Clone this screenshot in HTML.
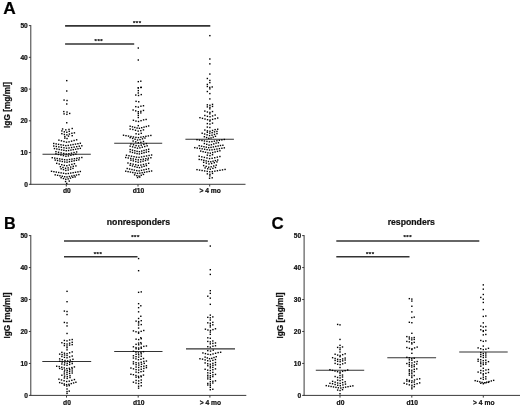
<!DOCTYPE html>
<html><head><meta charset="utf-8"><title>IgG figure</title>
<style>html,body{margin:0;padding:0;background:#fff}svg{display:block}</style>
</head><body>
<svg width="520" height="406" viewBox="0 0 520 406">
<rect width="520" height="406" fill="#fff"/>
<g font-family="'Liberation Sans', sans-serif" font-weight="bold" fill="#111" stroke="#111" stroke-width="0.22">
<g stroke="#3a3a3a" stroke-width="1" fill="none">
<path d="M30.8 25.1V184.8"/>
<path d="M30.3 184.3H245.5"/>
<path d="M28.900000000000002 184.30H30.8"/>
<path d="M28.900000000000002 152.56H30.8"/>
<path d="M28.900000000000002 120.82H30.8"/>
<path d="M28.900000000000002 89.08H30.8"/>
<path d="M28.900000000000002 57.34H30.8"/>
<path d="M28.900000000000002 25.60H30.8"/>
<path d="M66.3 184.3V186.5"/>
<path d="M138 184.3V186.5"/>
<path d="M209.7 184.3V186.5"/>
</g>
<g font-size="6.6" text-anchor="end">
<text x="27.8" y="186.80">0</text>
<text x="27.8" y="155.06">10</text>
<text x="27.8" y="123.32">20</text>
<text x="27.8" y="91.58">30</text>
<text x="27.8" y="59.84">40</text>
<text x="27.8" y="28.10">50</text>
</g>
<g font-size="6.7" text-anchor="middle">
<text x="66.8" y="193.3">d0</text>
<text x="138.5" y="193.3">d10</text>
<text x="210.2" y="193.3">&gt; 4 mo</text>
</g>
<text font-size="8.3" text-anchor="middle" transform="translate(10.3 104.95) rotate(-90)">IgG [mg/ml]</text>
<g stroke="#3a3a3a" stroke-width="1" fill="none">
<path d="M30.8 235.1V395.9"/>
<path d="M30.3 395.4H246.3"/>
<path d="M28.900000000000002 395.40H30.8"/>
<path d="M28.900000000000002 363.44H30.8"/>
<path d="M28.900000000000002 331.48H30.8"/>
<path d="M28.900000000000002 299.52H30.8"/>
<path d="M28.900000000000002 267.56H30.8"/>
<path d="M28.900000000000002 235.60H30.8"/>
<path d="M66.5 395.4V397.59999999999997"/>
<path d="M138.2 395.4V397.59999999999997"/>
<path d="M209.9 395.4V397.59999999999997"/>
</g>
<g font-size="6.6" text-anchor="end">
<text x="27.8" y="397.90">0</text>
<text x="27.8" y="365.94">10</text>
<text x="27.8" y="333.98">20</text>
<text x="27.8" y="302.02">30</text>
<text x="27.8" y="270.06">40</text>
<text x="27.8" y="238.10">50</text>
</g>
<g font-size="6.7" text-anchor="middle">
<text x="67.0" y="404.5">d0</text>
<text x="138.7" y="404.5">d10</text>
<text x="210.4" y="404.5">&gt; 4 mo</text>
</g>
<text font-size="8.3" text-anchor="middle" transform="translate(10.3 315.5) rotate(-90)">IgG [mg/ml]</text>
<g stroke="#3a3a3a" stroke-width="1" fill="none">
<path d="M304.1 235.1V395.9"/>
<path d="M303.6 395.4H520"/>
<path d="M302.20000000000005 395.40H304.1"/>
<path d="M302.20000000000005 363.44H304.1"/>
<path d="M302.20000000000005 331.48H304.1"/>
<path d="M302.20000000000005 299.52H304.1"/>
<path d="M302.20000000000005 267.56H304.1"/>
<path d="M302.20000000000005 235.60H304.1"/>
<path d="M340.0 395.4V397.59999999999997"/>
<path d="M411.8 395.4V397.59999999999997"/>
<path d="M483.3 395.4V397.59999999999997"/>
</g>
<g font-size="6.6" text-anchor="end">
<text x="301.1" y="397.90">0</text>
<text x="301.1" y="365.94">10</text>
<text x="301.1" y="333.98">20</text>
<text x="301.1" y="302.02">30</text>
<text x="301.1" y="270.06">40</text>
<text x="301.1" y="238.10">50</text>
</g>
<g font-size="6.7" text-anchor="middle">
<text x="340.5" y="404.5">d0</text>
<text x="412.3" y="404.5">d10</text>
<text x="483.8" y="404.5">&gt; 4 mo</text>
</g>
<text font-size="8.3" text-anchor="middle" transform="translate(283 315.5) rotate(-90)">IgG [mg/ml]</text>
<g font-size="17.4" fill="#000">
<text x="3.2" y="14.35" font-size="17.3">A</text>
<text transform="translate(4.0 228.55) scale(0.93 1)">B</text>
<text transform="translate(271.4 228.8) scale(0.97 1)">C</text>
</g>
<g font-size="8.7" text-anchor="middle">
<text x="138.4" y="224.55">nonresponders</text>
<text x="411.3" y="224.55">responders</text>
</g>
<g font-size="6" text-anchor="middle">
<text y="42.75" x="95.69999999999999 98.6 101.5">***</text>
<text y="24.95" x="134.1 137 139.9">***</text>
<text y="255.5" x="94.8 97.7 100.60000000000001">***</text>
<text y="238.75" x="132.29999999999998 135.2 138.1">***</text>
<text y="255.5" x="367.1 370.0 372.9">***</text>
<text y="238.75" x="404.6 407.5 410.4">***</text>
</g>
</g>
<path d="M65.1 25.9H210.3" stroke="#333" stroke-width="1.7"/>
<path d="M65.1 44.0H134.2" stroke="#333" stroke-width="1.7"/>
<path d="M64 240.9H207.8" stroke="#333" stroke-width="1.5"/>
<path d="M64 256.75H137.5" stroke="#333" stroke-width="1.5"/>
<path d="M336.3 240.9H479.3" stroke="#333" stroke-width="1.5"/>
<path d="M336.3 256.75H409.5" stroke="#333" stroke-width="1.5"/>
<path d="M42.5 154.2H90.8" stroke="#333" stroke-width="1.05"/>
<path d="M114.2 143.2H162.2" stroke="#333" stroke-width="1.05"/>
<path d="M185.4 139.2H233.9" stroke="#333" stroke-width="1.05"/>
<path d="M42.3 361.5H91.2" stroke="#333" stroke-width="1.0"/>
<path d="M114.2 351.5H162.5" stroke="#333" stroke-width="1.0"/>
<path d="M186 348.85H235" stroke="#333" stroke-width="1.05"/>
<path d="M315.8 370.2H364.2" stroke="#333" stroke-width="1.05"/>
<path d="M387.3 357.75H436.1" stroke="#333" stroke-width="1.05"/>
<path d="M459.2 352.0H507.7" stroke="#333" stroke-width="1.15"/>
<g fill="#000">
<rect x="66.04" y="79.94" width="1.4" height="1.4"/><rect x="66.04" y="90.29" width="1.4" height="1.4"/><rect x="63.38" y="99.37" width="1.4" height="1.4"/><rect x="66.33" y="99.82" width="1.4" height="1.4"/><rect x="66.04" y="103.29" width="1.4" height="1.4"/><rect x="63.08" y="110.90" width="1.4" height="1.4"/><rect x="66.33" y="111.35" width="1.4" height="1.4"/><rect x="63.38" y="113.19" width="1.4" height="1.4"/><rect x="66.19" y="113.64" width="1.4" height="1.4"/><rect x="68.99" y="112.74" width="1.4" height="1.4"/><rect x="66.04" y="122.06" width="1.4" height="1.4"/><rect x="61.90" y="128.26" width="1.4" height="1.4"/><rect x="65.10" y="129.16" width="1.4" height="1.4"/><rect x="68.30" y="128.71" width="1.4" height="1.4"/><rect x="71.51" y="127.80" width="1.4" height="1.4"/><rect x="61.16" y="130.21" width="1.4" height="1.4"/><rect x="63.63" y="131.12" width="1.4" height="1.4"/><rect x="66.09" y="131.57" width="1.4" height="1.4"/><rect x="68.55" y="130.66" width="1.4" height="1.4"/><rect x="61.16" y="132.96" width="1.4" height="1.4"/><rect x="63.67" y="133.78" width="1.4" height="1.4"/><rect x="66.19" y="134.19" width="1.4" height="1.4"/><rect x="68.70" y="133.37" width="1.4" height="1.4"/><rect x="71.21" y="132.56" width="1.4" height="1.4"/><rect x="73.72" y="132.15" width="1.4" height="1.4"/><rect x="64.12" y="135.88" width="1.4" height="1.4"/><rect x="67.81" y="135.43" width="1.4" height="1.4"/><rect x="71.51" y="134.98" width="1.4" height="1.4"/><rect x="64.12" y="137.42" width="1.4" height="1.4"/><rect x="66.33" y="137.87" width="1.4" height="1.4"/><rect x="58.21" y="139.45" width="1.4" height="1.4"/><rect x="60.74" y="140.13" width="1.4" height="1.4"/><rect x="63.27" y="140.81" width="1.4" height="1.4"/><rect x="65.81" y="141.49" width="1.4" height="1.4"/><rect x="68.34" y="141.15" width="1.4" height="1.4"/><rect x="70.87" y="140.47" width="1.4" height="1.4"/><rect x="73.41" y="139.79" width="1.4" height="1.4"/><rect x="75.94" y="139.11" width="1.4" height="1.4"/><rect x="53.03" y="142.77" width="1.4" height="1.4"/><rect x="55.45" y="143.20" width="1.4" height="1.4"/><rect x="57.87" y="143.64" width="1.4" height="1.4"/><rect x="60.29" y="144.07" width="1.4" height="1.4"/><rect x="62.71" y="144.50" width="1.4" height="1.4"/><rect x="65.13" y="144.94" width="1.4" height="1.4"/><rect x="67.54" y="144.72" width="1.4" height="1.4"/><rect x="69.96" y="144.29" width="1.4" height="1.4"/><rect x="72.38" y="143.85" width="1.4" height="1.4"/><rect x="74.80" y="143.42" width="1.4" height="1.4"/><rect x="77.22" y="142.99" width="1.4" height="1.4"/><rect x="79.63" y="142.56" width="1.4" height="1.4"/><rect x="53.03" y="145.33" width="1.4" height="1.4"/><rect x="55.59" y="145.76" width="1.4" height="1.4"/><rect x="58.14" y="146.19" width="1.4" height="1.4"/><rect x="60.69" y="146.62" width="1.4" height="1.4"/><rect x="63.24" y="147.06" width="1.4" height="1.4"/><rect x="65.80" y="147.49" width="1.4" height="1.4"/><rect x="68.35" y="147.27" width="1.4" height="1.4"/><rect x="70.90" y="146.84" width="1.4" height="1.4"/><rect x="73.45" y="146.41" width="1.4" height="1.4"/><rect x="76.01" y="145.98" width="1.4" height="1.4"/><rect x="78.56" y="145.54" width="1.4" height="1.4"/><rect x="81.11" y="145.11" width="1.4" height="1.4"/><rect x="53.77" y="147.88" width="1.4" height="1.4"/><rect x="56.12" y="148.31" width="1.4" height="1.4"/><rect x="58.48" y="148.75" width="1.4" height="1.4"/><rect x="60.83" y="149.18" width="1.4" height="1.4"/><rect x="63.18" y="149.61" width="1.4" height="1.4"/><rect x="65.53" y="150.04" width="1.4" height="1.4"/><rect x="67.88" y="149.83" width="1.4" height="1.4"/><rect x="70.23" y="149.39" width="1.4" height="1.4"/><rect x="72.58" y="148.96" width="1.4" height="1.4"/><rect x="74.93" y="148.53" width="1.4" height="1.4"/><rect x="77.28" y="148.10" width="1.4" height="1.4"/><rect x="79.63" y="147.66" width="1.4" height="1.4"/><rect x="55.25" y="150.96" width="1.4" height="1.4"/><rect x="57.84" y="151.55" width="1.4" height="1.4"/><rect x="60.42" y="152.15" width="1.4" height="1.4"/><rect x="63.01" y="152.74" width="1.4" height="1.4"/><rect x="65.60" y="153.34" width="1.4" height="1.4"/><rect x="68.18" y="153.04" width="1.4" height="1.4"/><rect x="70.77" y="152.44" width="1.4" height="1.4"/><rect x="73.35" y="151.85" width="1.4" height="1.4"/><rect x="75.94" y="151.25" width="1.4" height="1.4"/><rect x="55.25" y="153.14" width="1.4" height="1.4"/><rect x="57.74" y="153.74" width="1.4" height="1.4"/><rect x="60.24" y="154.33" width="1.4" height="1.4"/><rect x="62.73" y="154.93" width="1.4" height="1.4"/><rect x="65.23" y="155.52" width="1.4" height="1.4"/><rect x="67.72" y="155.22" width="1.4" height="1.4"/><rect x="70.21" y="154.63" width="1.4" height="1.4"/><rect x="72.71" y="154.03" width="1.4" height="1.4"/><rect x="75.20" y="153.44" width="1.4" height="1.4"/><rect x="51.56" y="157.00" width="1.4" height="1.4"/><rect x="54.02" y="157.40" width="1.4" height="1.4"/><rect x="56.48" y="157.80" width="1.4" height="1.4"/><rect x="58.95" y="158.19" width="1.4" height="1.4"/><rect x="61.41" y="158.59" width="1.4" height="1.4"/><rect x="63.87" y="158.99" width="1.4" height="1.4"/><rect x="66.33" y="159.18" width="1.4" height="1.4"/><rect x="68.80" y="158.79" width="1.4" height="1.4"/><rect x="71.26" y="158.39" width="1.4" height="1.4"/><rect x="73.72" y="157.99" width="1.4" height="1.4"/><rect x="76.19" y="157.60" width="1.4" height="1.4"/><rect x="78.65" y="157.20" width="1.4" height="1.4"/><rect x="81.11" y="156.80" width="1.4" height="1.4"/><rect x="54.51" y="159.37" width="1.4" height="1.4"/><rect x="56.88" y="159.85" width="1.4" height="1.4"/><rect x="59.24" y="160.33" width="1.4" height="1.4"/><rect x="61.61" y="160.80" width="1.4" height="1.4"/><rect x="63.97" y="161.28" width="1.4" height="1.4"/><rect x="66.33" y="161.52" width="1.4" height="1.4"/><rect x="68.70" y="161.04" width="1.4" height="1.4"/><rect x="71.06" y="160.56" width="1.4" height="1.4"/><rect x="73.43" y="160.09" width="1.4" height="1.4"/><rect x="75.79" y="159.61" width="1.4" height="1.4"/><rect x="78.16" y="159.14" width="1.4" height="1.4"/><rect x="55.99" y="162.65" width="1.4" height="1.4"/><rect x="58.52" y="163.33" width="1.4" height="1.4"/><rect x="61.06" y="164.01" width="1.4" height="1.4"/><rect x="63.59" y="164.69" width="1.4" height="1.4"/><rect x="66.12" y="165.03" width="1.4" height="1.4"/><rect x="68.66" y="164.35" width="1.4" height="1.4"/><rect x="71.19" y="163.67" width="1.4" height="1.4"/><rect x="73.72" y="162.99" width="1.4" height="1.4"/><rect x="59.68" y="166.00" width="1.4" height="1.4"/><rect x="62.27" y="166.79" width="1.4" height="1.4"/><rect x="64.86" y="167.58" width="1.4" height="1.4"/><rect x="67.44" y="167.19" width="1.4" height="1.4"/><rect x="70.03" y="166.39" width="1.4" height="1.4"/><rect x="72.62" y="165.60" width="1.4" height="1.4"/><rect x="75.20" y="165.20" width="1.4" height="1.4"/><rect x="60.42" y="168.10" width="1.4" height="1.4"/><rect x="62.79" y="168.92" width="1.4" height="1.4"/><rect x="65.15" y="169.73" width="1.4" height="1.4"/><rect x="67.52" y="169.33" width="1.4" height="1.4"/><rect x="69.88" y="168.51" width="1.4" height="1.4"/><rect x="72.25" y="167.69" width="1.4" height="1.4"/><rect x="50.82" y="170.60" width="1.4" height="1.4"/><rect x="53.22" y="170.99" width="1.4" height="1.4"/><rect x="55.62" y="171.39" width="1.4" height="1.4"/><rect x="58.02" y="171.79" width="1.4" height="1.4"/><rect x="60.42" y="172.18" width="1.4" height="1.4"/><rect x="62.82" y="172.58" width="1.4" height="1.4"/><rect x="65.23" y="172.98" width="1.4" height="1.4"/><rect x="67.63" y="172.78" width="1.4" height="1.4"/><rect x="70.03" y="172.38" width="1.4" height="1.4"/><rect x="72.43" y="171.98" width="1.4" height="1.4"/><rect x="74.83" y="171.59" width="1.4" height="1.4"/><rect x="77.23" y="171.19" width="1.4" height="1.4"/><rect x="79.63" y="170.79" width="1.4" height="1.4"/><rect x="54.51" y="174.13" width="1.4" height="1.4"/><rect x="56.88" y="174.60" width="1.4" height="1.4"/><rect x="59.24" y="175.08" width="1.4" height="1.4"/><rect x="61.61" y="175.55" width="1.4" height="1.4"/><rect x="63.97" y="176.03" width="1.4" height="1.4"/><rect x="66.33" y="176.27" width="1.4" height="1.4"/><rect x="68.70" y="175.79" width="1.4" height="1.4"/><rect x="71.06" y="175.32" width="1.4" height="1.4"/><rect x="73.43" y="174.84" width="1.4" height="1.4"/><rect x="75.79" y="174.36" width="1.4" height="1.4"/><rect x="78.16" y="173.89" width="1.4" height="1.4"/><rect x="60.42" y="177.01" width="1.4" height="1.4"/><rect x="62.76" y="177.81" width="1.4" height="1.4"/><rect x="65.10" y="178.60" width="1.4" height="1.4"/><rect x="67.44" y="178.20" width="1.4" height="1.4"/><rect x="69.78" y="177.41" width="1.4" height="1.4"/><rect x="72.12" y="176.62" width="1.4" height="1.4"/><rect x="74.46" y="176.22" width="1.4" height="1.4"/><rect x="64.86" y="180.82" width="1.4" height="1.4"/><rect x="68.55" y="180.37" width="1.4" height="1.4"/><rect x="66.04" y="182.72" width="1.4" height="1.4"/><rect x="137.60" y="47.33" width="1.4" height="1.4"/><rect x="137.60" y="59.30" width="1.4" height="1.4"/><rect x="137.60" y="80.95" width="1.4" height="1.4"/><rect x="140.11" y="80.50" width="1.4" height="1.4"/><rect x="137.60" y="87.16" width="1.4" height="1.4"/><rect x="140.55" y="86.71" width="1.4" height="1.4"/><rect x="137.60" y="87.19" width="1.4" height="1.4"/><rect x="140.11" y="86.74" width="1.4" height="1.4"/><rect x="137.60" y="89.92" width="1.4" height="1.4"/><rect x="137.60" y="92.28" width="1.4" height="1.4"/><rect x="135.08" y="94.35" width="1.4" height="1.4"/><rect x="137.82" y="94.80" width="1.4" height="1.4"/><rect x="140.55" y="93.90" width="1.4" height="1.4"/><rect x="135.38" y="100.63" width="1.4" height="1.4"/><rect x="138.04" y="101.08" width="1.4" height="1.4"/><rect x="135.08" y="105.96" width="1.4" height="1.4"/><rect x="137.64" y="106.41" width="1.4" height="1.4"/><rect x="140.21" y="105.50" width="1.4" height="1.4"/><rect x="142.77" y="105.05" width="1.4" height="1.4"/><rect x="132.42" y="109.31" width="1.4" height="1.4"/><rect x="135.01" y="110.16" width="1.4" height="1.4"/><rect x="137.60" y="111.01" width="1.4" height="1.4"/><rect x="140.18" y="110.59" width="1.4" height="1.4"/><rect x="142.77" y="109.74" width="1.4" height="1.4"/><rect x="137.60" y="112.66" width="1.4" height="1.4"/><rect x="140.11" y="112.21" width="1.4" height="1.4"/><rect x="137.60" y="114.65" width="1.4" height="1.4"/><rect x="137.60" y="116.81" width="1.4" height="1.4"/><rect x="132.72" y="119.56" width="1.4" height="1.4"/><rect x="135.26" y="120.38" width="1.4" height="1.4"/><rect x="137.80" y="120.79" width="1.4" height="1.4"/><rect x="140.34" y="119.97" width="1.4" height="1.4"/><rect x="142.89" y="119.16" width="1.4" height="1.4"/><rect x="145.43" y="118.75" width="1.4" height="1.4"/><rect x="137.60" y="124.94" width="1.4" height="1.4"/><rect x="129.47" y="125.53" width="1.4" height="1.4"/><rect x="131.78" y="126.12" width="1.4" height="1.4"/><rect x="134.09" y="126.72" width="1.4" height="1.4"/><rect x="136.39" y="127.31" width="1.4" height="1.4"/><rect x="138.70" y="127.61" width="1.4" height="1.4"/><rect x="141.01" y="127.01" width="1.4" height="1.4"/><rect x="143.32" y="126.42" width="1.4" height="1.4"/><rect x="145.63" y="125.82" width="1.4" height="1.4"/><rect x="147.94" y="125.23" width="1.4" height="1.4"/><rect x="129.47" y="128.35" width="1.4" height="1.4"/><rect x="132.13" y="128.76" width="1.4" height="1.4"/><rect x="134.79" y="129.58" width="1.4" height="1.4"/><rect x="137.45" y="130.39" width="1.4" height="1.4"/><rect x="140.11" y="129.99" width="1.4" height="1.4"/><rect x="142.77" y="129.17" width="1.4" height="1.4"/><rect x="135.38" y="133.07" width="1.4" height="1.4"/><rect x="137.97" y="133.52" width="1.4" height="1.4"/><rect x="140.55" y="132.62" width="1.4" height="1.4"/><rect x="122.82" y="134.54" width="1.4" height="1.4"/><rect x="125.30" y="134.97" width="1.4" height="1.4"/><rect x="127.79" y="135.40" width="1.4" height="1.4"/><rect x="130.27" y="135.84" width="1.4" height="1.4"/><rect x="132.76" y="136.27" width="1.4" height="1.4"/><rect x="135.24" y="136.70" width="1.4" height="1.4"/><rect x="137.73" y="136.92" width="1.4" height="1.4"/><rect x="140.22" y="136.49" width="1.4" height="1.4"/><rect x="142.70" y="136.05" width="1.4" height="1.4"/><rect x="145.19" y="135.62" width="1.4" height="1.4"/><rect x="147.67" y="135.19" width="1.4" height="1.4"/><rect x="150.16" y="134.75" width="1.4" height="1.4"/><rect x="129.47" y="136.94" width="1.4" height="1.4"/><rect x="131.93" y="137.73" width="1.4" height="1.4"/><rect x="134.39" y="138.53" width="1.4" height="1.4"/><rect x="136.86" y="139.32" width="1.4" height="1.4"/><rect x="139.32" y="138.92" width="1.4" height="1.4"/><rect x="141.78" y="138.13" width="1.4" height="1.4"/><rect x="144.25" y="137.34" width="1.4" height="1.4"/><rect x="132.42" y="140.35" width="1.4" height="1.4"/><rect x="135.01" y="141.20" width="1.4" height="1.4"/><rect x="137.60" y="142.05" width="1.4" height="1.4"/><rect x="140.18" y="141.62" width="1.4" height="1.4"/><rect x="142.77" y="140.77" width="1.4" height="1.4"/><rect x="130.21" y="143.28" width="1.4" height="1.4"/><rect x="132.79" y="144.08" width="1.4" height="1.4"/><rect x="135.38" y="144.87" width="1.4" height="1.4"/><rect x="137.97" y="145.27" width="1.4" height="1.4"/><rect x="140.55" y="144.47" width="1.4" height="1.4"/><rect x="143.14" y="143.68" width="1.4" height="1.4"/><rect x="145.72" y="142.89" width="1.4" height="1.4"/><rect x="129.47" y="145.46" width="1.4" height="1.4"/><rect x="131.90" y="146.14" width="1.4" height="1.4"/><rect x="134.32" y="146.82" width="1.4" height="1.4"/><rect x="136.75" y="147.50" width="1.4" height="1.4"/><rect x="139.18" y="147.16" width="1.4" height="1.4"/><rect x="141.61" y="146.48" width="1.4" height="1.4"/><rect x="144.03" y="145.80" width="1.4" height="1.4"/><rect x="146.46" y="145.12" width="1.4" height="1.4"/><rect x="129.47" y="148.88" width="1.4" height="1.4"/><rect x="131.78" y="149.47" width="1.4" height="1.4"/><rect x="134.09" y="150.07" width="1.4" height="1.4"/><rect x="136.39" y="150.66" width="1.4" height="1.4"/><rect x="138.70" y="150.96" width="1.4" height="1.4"/><rect x="141.01" y="150.36" width="1.4" height="1.4"/><rect x="143.32" y="149.77" width="1.4" height="1.4"/><rect x="145.63" y="149.17" width="1.4" height="1.4"/><rect x="147.94" y="148.58" width="1.4" height="1.4"/><rect x="129.47" y="151.15" width="1.4" height="1.4"/><rect x="131.78" y="151.74" width="1.4" height="1.4"/><rect x="134.09" y="152.34" width="1.4" height="1.4"/><rect x="136.39" y="152.93" width="1.4" height="1.4"/><rect x="138.70" y="153.23" width="1.4" height="1.4"/><rect x="141.01" y="152.64" width="1.4" height="1.4"/><rect x="143.32" y="152.04" width="1.4" height="1.4"/><rect x="145.63" y="151.45" width="1.4" height="1.4"/><rect x="147.94" y="150.85" width="1.4" height="1.4"/><rect x="125.77" y="154.54" width="1.4" height="1.4"/><rect x="128.29" y="155.02" width="1.4" height="1.4"/><rect x="130.80" y="155.50" width="1.4" height="1.4"/><rect x="133.31" y="155.97" width="1.4" height="1.4"/><rect x="135.82" y="156.45" width="1.4" height="1.4"/><rect x="138.33" y="156.69" width="1.4" height="1.4"/><rect x="140.85" y="156.21" width="1.4" height="1.4"/><rect x="143.36" y="155.73" width="1.4" height="1.4"/><rect x="145.87" y="155.26" width="1.4" height="1.4"/><rect x="148.38" y="154.78" width="1.4" height="1.4"/><rect x="150.90" y="154.31" width="1.4" height="1.4"/><rect x="125.03" y="156.80" width="1.4" height="1.4"/><rect x="127.55" y="157.28" width="1.4" height="1.4"/><rect x="130.06" y="157.75" width="1.4" height="1.4"/><rect x="132.57" y="158.23" width="1.4" height="1.4"/><rect x="135.08" y="158.70" width="1.4" height="1.4"/><rect x="137.60" y="159.18" width="1.4" height="1.4"/><rect x="140.11" y="158.94" width="1.4" height="1.4"/><rect x="142.62" y="158.47" width="1.4" height="1.4"/><rect x="145.13" y="157.99" width="1.4" height="1.4"/><rect x="147.64" y="157.51" width="1.4" height="1.4"/><rect x="150.16" y="157.04" width="1.4" height="1.4"/><rect x="130.21" y="159.49" width="1.4" height="1.4"/><rect x="132.63" y="160.17" width="1.4" height="1.4"/><rect x="135.06" y="160.85" width="1.4" height="1.4"/><rect x="137.49" y="161.53" width="1.4" height="1.4"/><rect x="139.92" y="161.19" width="1.4" height="1.4"/><rect x="142.35" y="160.51" width="1.4" height="1.4"/><rect x="144.77" y="159.83" width="1.4" height="1.4"/><rect x="147.20" y="159.15" width="1.4" height="1.4"/><rect x="127.25" y="162.30" width="1.4" height="1.4"/><rect x="129.84" y="162.89" width="1.4" height="1.4"/><rect x="132.42" y="163.49" width="1.4" height="1.4"/><rect x="135.01" y="164.08" width="1.4" height="1.4"/><rect x="137.60" y="164.68" width="1.4" height="1.4"/><rect x="140.18" y="164.38" width="1.4" height="1.4"/><rect x="142.77" y="163.78" width="1.4" height="1.4"/><rect x="145.35" y="163.19" width="1.4" height="1.4"/><rect x="147.94" y="162.59" width="1.4" height="1.4"/><rect x="129.47" y="164.58" width="1.4" height="1.4"/><rect x="131.79" y="165.26" width="1.4" height="1.4"/><rect x="134.11" y="165.94" width="1.4" height="1.4"/><rect x="136.43" y="166.62" width="1.4" height="1.4"/><rect x="138.76" y="166.96" width="1.4" height="1.4"/><rect x="141.08" y="166.28" width="1.4" height="1.4"/><rect x="143.40" y="165.60" width="1.4" height="1.4"/><rect x="145.72" y="164.92" width="1.4" height="1.4"/><rect x="126.51" y="167.80" width="1.4" height="1.4"/><rect x="128.89" y="168.33" width="1.4" height="1.4"/><rect x="131.27" y="168.86" width="1.4" height="1.4"/><rect x="133.65" y="169.39" width="1.4" height="1.4"/><rect x="136.04" y="169.92" width="1.4" height="1.4"/><rect x="138.42" y="170.18" width="1.4" height="1.4"/><rect x="140.80" y="169.65" width="1.4" height="1.4"/><rect x="143.18" y="169.13" width="1.4" height="1.4"/><rect x="145.56" y="168.60" width="1.4" height="1.4"/><rect x="147.94" y="168.07" width="1.4" height="1.4"/><rect x="125.03" y="170.51" width="1.4" height="1.4"/><rect x="127.39" y="170.95" width="1.4" height="1.4"/><rect x="129.74" y="171.38" width="1.4" height="1.4"/><rect x="132.09" y="171.81" width="1.4" height="1.4"/><rect x="134.44" y="172.24" width="1.4" height="1.4"/><rect x="136.79" y="172.68" width="1.4" height="1.4"/><rect x="139.14" y="172.46" width="1.4" height="1.4"/><rect x="141.49" y="172.03" width="1.4" height="1.4"/><rect x="143.84" y="171.60" width="1.4" height="1.4"/><rect x="146.19" y="171.16" width="1.4" height="1.4"/><rect x="148.54" y="170.73" width="1.4" height="1.4"/><rect x="150.90" y="170.30" width="1.4" height="1.4"/><rect x="133.90" y="174.15" width="1.4" height="1.4"/><rect x="136.12" y="175.00" width="1.4" height="1.4"/><rect x="138.33" y="175.42" width="1.4" height="1.4"/><rect x="140.55" y="174.57" width="1.4" height="1.4"/><rect x="142.77" y="173.72" width="1.4" height="1.4"/><rect x="136.86" y="176.82" width="1.4" height="1.4"/><rect x="139.07" y="176.37" width="1.4" height="1.4"/><rect x="209.15" y="34.94" width="1.4" height="1.4"/><rect x="209.15" y="58.29" width="1.4" height="1.4"/><rect x="209.15" y="63.17" width="1.4" height="1.4"/><rect x="209.15" y="73.36" width="1.4" height="1.4"/><rect x="206.64" y="77.80" width="1.4" height="1.4"/><rect x="209.15" y="79.73" width="1.4" height="1.4"/><rect x="209.15" y="81.94" width="1.4" height="1.4"/><rect x="206.64" y="83.73" width="1.4" height="1.4"/><rect x="206.64" y="85.79" width="1.4" height="1.4"/><rect x="209.08" y="86.69" width="1.4" height="1.4"/><rect x="211.52" y="86.24" width="1.4" height="1.4"/><rect x="209.15" y="88.17" width="1.4" height="1.4"/><rect x="206.64" y="90.83" width="1.4" height="1.4"/><rect x="209.15" y="92.90" width="1.4" height="1.4"/><rect x="209.15" y="98.22" width="1.4" height="1.4"/><rect x="206.64" y="104.13" width="1.4" height="1.4"/><rect x="209.23" y="104.58" width="1.4" height="1.4"/><rect x="211.81" y="103.68" width="1.4" height="1.4"/><rect x="206.64" y="106.18" width="1.4" height="1.4"/><rect x="209.23" y="106.63" width="1.4" height="1.4"/><rect x="211.81" y="105.73" width="1.4" height="1.4"/><rect x="209.15" y="108.12" width="1.4" height="1.4"/><rect x="204.13" y="110.39" width="1.4" height="1.4"/><rect x="206.69" y="111.30" width="1.4" height="1.4"/><rect x="209.25" y="111.75" width="1.4" height="1.4"/><rect x="211.81" y="110.85" width="1.4" height="1.4"/><rect x="209.15" y="113.14" width="1.4" height="1.4"/><rect x="204.13" y="114.78" width="1.4" height="1.4"/><rect x="206.71" y="115.63" width="1.4" height="1.4"/><rect x="209.30" y="116.06" width="1.4" height="1.4"/><rect x="211.89" y="115.21" width="1.4" height="1.4"/><rect x="214.47" y="114.36" width="1.4" height="1.4"/><rect x="199.25" y="116.98" width="1.4" height="1.4"/><rect x="201.78" y="117.66" width="1.4" height="1.4"/><rect x="204.32" y="118.34" width="1.4" height="1.4"/><rect x="206.85" y="119.02" width="1.4" height="1.4"/><rect x="209.38" y="119.36" width="1.4" height="1.4"/><rect x="211.92" y="118.68" width="1.4" height="1.4"/><rect x="214.45" y="118.00" width="1.4" height="1.4"/><rect x="216.98" y="117.32" width="1.4" height="1.4"/><rect x="209.15" y="120.42" width="1.4" height="1.4"/><rect x="206.64" y="122.90" width="1.4" height="1.4"/><rect x="209.23" y="123.35" width="1.4" height="1.4"/><rect x="211.81" y="122.45" width="1.4" height="1.4"/><rect x="206.64" y="126.37" width="1.4" height="1.4"/><rect x="209.15" y="126.82" width="1.4" height="1.4"/><rect x="204.13" y="129.34" width="1.4" height="1.4"/><rect x="206.70" y="130.16" width="1.4" height="1.4"/><rect x="209.27" y="130.57" width="1.4" height="1.4"/><rect x="211.84" y="129.75" width="1.4" height="1.4"/><rect x="214.41" y="128.93" width="1.4" height="1.4"/><rect x="216.98" y="128.53" width="1.4" height="1.4"/><rect x="206.64" y="131.58" width="1.4" height="1.4"/><rect x="209.04" y="132.43" width="1.4" height="1.4"/><rect x="211.44" y="132.00" width="1.4" height="1.4"/><rect x="213.84" y="131.15" width="1.4" height="1.4"/><rect x="216.25" y="130.73" width="1.4" height="1.4"/><rect x="201.47" y="132.52" width="1.4" height="1.4"/><rect x="203.93" y="133.32" width="1.4" height="1.4"/><rect x="206.39" y="134.11" width="1.4" height="1.4"/><rect x="208.86" y="134.90" width="1.4" height="1.4"/><rect x="211.32" y="134.51" width="1.4" height="1.4"/><rect x="213.78" y="133.71" width="1.4" height="1.4"/><rect x="216.25" y="132.92" width="1.4" height="1.4"/><rect x="203.68" y="136.03" width="1.4" height="1.4"/><rect x="205.90" y="136.84" width="1.4" height="1.4"/><rect x="208.12" y="137.66" width="1.4" height="1.4"/><rect x="210.33" y="137.25" width="1.4" height="1.4"/><rect x="212.55" y="136.44" width="1.4" height="1.4"/><rect x="214.77" y="135.62" width="1.4" height="1.4"/><rect x="196.30" y="138.97" width="1.4" height="1.4"/><rect x="198.78" y="139.40" width="1.4" height="1.4"/><rect x="201.27" y="139.83" width="1.4" height="1.4"/><rect x="203.75" y="140.26" width="1.4" height="1.4"/><rect x="206.24" y="140.70" width="1.4" height="1.4"/><rect x="208.72" y="141.13" width="1.4" height="1.4"/><rect x="211.21" y="140.91" width="1.4" height="1.4"/><rect x="213.69" y="140.48" width="1.4" height="1.4"/><rect x="216.18" y="140.05" width="1.4" height="1.4"/><rect x="218.66" y="139.62" width="1.4" height="1.4"/><rect x="221.15" y="139.18" width="1.4" height="1.4"/><rect x="223.63" y="138.75" width="1.4" height="1.4"/><rect x="203.68" y="142.82" width="1.4" height="1.4"/><rect x="206.02" y="143.61" width="1.4" height="1.4"/><rect x="208.36" y="144.41" width="1.4" height="1.4"/><rect x="210.70" y="144.01" width="1.4" height="1.4"/><rect x="213.04" y="143.22" width="1.4" height="1.4"/><rect x="215.38" y="142.42" width="1.4" height="1.4"/><rect x="217.72" y="142.03" width="1.4" height="1.4"/><rect x="198.51" y="145.04" width="1.4" height="1.4"/><rect x="200.88" y="145.51" width="1.4" height="1.4"/><rect x="203.24" y="145.99" width="1.4" height="1.4"/><rect x="205.61" y="146.47" width="1.4" height="1.4"/><rect x="207.97" y="146.94" width="1.4" height="1.4"/><rect x="210.33" y="146.70" width="1.4" height="1.4"/><rect x="212.70" y="146.23" width="1.4" height="1.4"/><rect x="215.06" y="145.75" width="1.4" height="1.4"/><rect x="217.43" y="145.28" width="1.4" height="1.4"/><rect x="219.79" y="144.80" width="1.4" height="1.4"/><rect x="222.16" y="144.56" width="1.4" height="1.4"/><rect x="194.08" y="146.95" width="1.4" height="1.4"/><rect x="196.54" y="147.35" width="1.4" height="1.4"/><rect x="199.00" y="147.75" width="1.4" height="1.4"/><rect x="201.47" y="148.14" width="1.4" height="1.4"/><rect x="203.93" y="148.54" width="1.4" height="1.4"/><rect x="206.39" y="148.94" width="1.4" height="1.4"/><rect x="208.86" y="149.33" width="1.4" height="1.4"/><rect x="211.32" y="149.13" width="1.4" height="1.4"/><rect x="213.78" y="148.74" width="1.4" height="1.4"/><rect x="216.25" y="148.34" width="1.4" height="1.4"/><rect x="218.71" y="147.94" width="1.4" height="1.4"/><rect x="221.17" y="147.55" width="1.4" height="1.4"/><rect x="223.63" y="147.15" width="1.4" height="1.4"/><rect x="199.99" y="150.38" width="1.4" height="1.4"/><rect x="202.39" y="150.97" width="1.4" height="1.4"/><rect x="204.79" y="151.57" width="1.4" height="1.4"/><rect x="207.19" y="152.16" width="1.4" height="1.4"/><rect x="209.60" y="152.46" width="1.4" height="1.4"/><rect x="212.00" y="151.86" width="1.4" height="1.4"/><rect x="214.40" y="151.27" width="1.4" height="1.4"/><rect x="216.80" y="150.67" width="1.4" height="1.4"/><rect x="219.20" y="150.08" width="1.4" height="1.4"/><rect x="206.64" y="154.47" width="1.4" height="1.4"/><rect x="209.23" y="154.92" width="1.4" height="1.4"/><rect x="211.81" y="154.02" width="1.4" height="1.4"/><rect x="198.51" y="155.53" width="1.4" height="1.4"/><rect x="201.10" y="156.12" width="1.4" height="1.4"/><rect x="203.68" y="156.72" width="1.4" height="1.4"/><rect x="206.27" y="157.31" width="1.4" height="1.4"/><rect x="208.86" y="157.91" width="1.4" height="1.4"/><rect x="211.44" y="157.61" width="1.4" height="1.4"/><rect x="214.03" y="157.01" width="1.4" height="1.4"/><rect x="216.62" y="156.42" width="1.4" height="1.4"/><rect x="219.20" y="155.82" width="1.4" height="1.4"/><rect x="198.51" y="158.72" width="1.4" height="1.4"/><rect x="200.82" y="159.01" width="1.4" height="1.4"/><rect x="203.13" y="159.61" width="1.4" height="1.4"/><rect x="205.44" y="160.20" width="1.4" height="1.4"/><rect x="207.75" y="160.80" width="1.4" height="1.4"/><rect x="210.06" y="161.10" width="1.4" height="1.4"/><rect x="212.37" y="160.50" width="1.4" height="1.4"/><rect x="214.68" y="159.91" width="1.4" height="1.4"/><rect x="216.98" y="159.31" width="1.4" height="1.4"/><rect x="202.95" y="161.61" width="1.4" height="1.4"/><rect x="205.61" y="162.42" width="1.4" height="1.4"/><rect x="208.27" y="163.24" width="1.4" height="1.4"/><rect x="210.93" y="162.83" width="1.4" height="1.4"/><rect x="213.59" y="162.02" width="1.4" height="1.4"/><rect x="216.25" y="161.20" width="1.4" height="1.4"/><rect x="202.95" y="164.87" width="1.4" height="1.4"/><rect x="205.46" y="165.69" width="1.4" height="1.4"/><rect x="207.97" y="166.50" width="1.4" height="1.4"/><rect x="210.48" y="166.10" width="1.4" height="1.4"/><rect x="212.99" y="165.28" width="1.4" height="1.4"/><rect x="215.51" y="164.46" width="1.4" height="1.4"/><rect x="204.42" y="167.23" width="1.4" height="1.4"/><rect x="207.01" y="168.08" width="1.4" height="1.4"/><rect x="209.60" y="168.50" width="1.4" height="1.4"/><rect x="212.18" y="167.65" width="1.4" height="1.4"/><rect x="214.77" y="166.80" width="1.4" height="1.4"/><rect x="196.30" y="168.95" width="1.4" height="1.4"/><rect x="198.85" y="169.38" width="1.4" height="1.4"/><rect x="201.40" y="169.81" width="1.4" height="1.4"/><rect x="203.95" y="170.25" width="1.4" height="1.4"/><rect x="206.51" y="170.68" width="1.4" height="1.4"/><rect x="209.06" y="171.11" width="1.4" height="1.4"/><rect x="211.61" y="170.90" width="1.4" height="1.4"/><rect x="214.16" y="170.46" width="1.4" height="1.4"/><rect x="216.72" y="170.03" width="1.4" height="1.4"/><rect x="219.27" y="169.60" width="1.4" height="1.4"/><rect x="221.82" y="169.17" width="1.4" height="1.4"/><rect x="224.37" y="168.73" width="1.4" height="1.4"/><rect x="206.64" y="173.15" width="1.4" height="1.4"/><rect x="209.23" y="173.60" width="1.4" height="1.4"/><rect x="211.81" y="172.70" width="1.4" height="1.4"/><rect x="209.15" y="175.20" width="1.4" height="1.4"/><rect x="208.86" y="177.55" width="1.4" height="1.4"/><rect x="211.52" y="177.10" width="1.4" height="1.4"/><rect x="66.33" y="290.65" width="1.4" height="1.4"/><rect x="66.33" y="301.00" width="1.4" height="1.4"/><rect x="63.67" y="310.38" width="1.4" height="1.4"/><rect x="66.33" y="310.83" width="1.4" height="1.4"/><rect x="66.33" y="313.86" width="1.4" height="1.4"/><rect x="63.67" y="321.76" width="1.4" height="1.4"/><rect x="66.33" y="322.21" width="1.4" height="1.4"/><rect x="66.33" y="325.24" width="1.4" height="1.4"/><rect x="66.33" y="332.77" width="1.4" height="1.4"/><rect x="63.67" y="339.74" width="1.4" height="1.4"/><rect x="66.29" y="340.20" width="1.4" height="1.4"/><rect x="68.90" y="339.29" width="1.4" height="1.4"/><rect x="71.51" y="338.84" width="1.4" height="1.4"/><rect x="61.16" y="342.05" width="1.4" height="1.4"/><rect x="63.75" y="342.90" width="1.4" height="1.4"/><rect x="66.33" y="343.32" width="1.4" height="1.4"/><rect x="68.92" y="342.47" width="1.4" height="1.4"/><rect x="71.51" y="341.62" width="1.4" height="1.4"/><rect x="63.67" y="344.84" width="1.4" height="1.4"/><rect x="66.29" y="345.29" width="1.4" height="1.4"/><rect x="68.90" y="344.38" width="1.4" height="1.4"/><rect x="71.51" y="343.93" width="1.4" height="1.4"/><rect x="66.33" y="346.98" width="1.4" height="1.4"/><rect x="66.33" y="349.12" width="1.4" height="1.4"/><rect x="61.16" y="351.65" width="1.4" height="1.4"/><rect x="63.75" y="352.50" width="1.4" height="1.4"/><rect x="66.33" y="352.93" width="1.4" height="1.4"/><rect x="68.92" y="352.08" width="1.4" height="1.4"/><rect x="71.51" y="351.23" width="1.4" height="1.4"/><rect x="58.95" y="353.42" width="1.4" height="1.4"/><rect x="61.41" y="353.87" width="1.4" height="1.4"/><rect x="63.87" y="354.32" width="1.4" height="1.4"/><rect x="66.33" y="354.78" width="1.4" height="1.4"/><rect x="61.16" y="355.78" width="1.4" height="1.4"/><rect x="63.75" y="356.63" width="1.4" height="1.4"/><rect x="66.33" y="357.05" width="1.4" height="1.4"/><rect x="68.92" y="356.20" width="1.4" height="1.4"/><rect x="71.51" y="355.35" width="1.4" height="1.4"/><rect x="58.95" y="358.19" width="1.4" height="1.4"/><rect x="61.61" y="359.01" width="1.4" height="1.4"/><rect x="64.27" y="359.82" width="1.4" height="1.4"/><rect x="66.93" y="360.23" width="1.4" height="1.4"/><rect x="69.59" y="359.41" width="1.4" height="1.4"/><rect x="72.25" y="358.60" width="1.4" height="1.4"/><rect x="58.95" y="360.54" width="1.4" height="1.4"/><rect x="61.46" y="361.35" width="1.4" height="1.4"/><rect x="63.97" y="362.17" width="1.4" height="1.4"/><rect x="66.48" y="362.58" width="1.4" height="1.4"/><rect x="68.99" y="361.76" width="1.4" height="1.4"/><rect x="71.51" y="360.94" width="1.4" height="1.4"/><rect x="61.16" y="363.31" width="1.4" height="1.4"/><rect x="63.75" y="364.16" width="1.4" height="1.4"/><rect x="66.33" y="364.59" width="1.4" height="1.4"/><rect x="68.92" y="363.74" width="1.4" height="1.4"/><rect x="71.51" y="362.89" width="1.4" height="1.4"/><rect x="55.99" y="365.53" width="1.4" height="1.4"/><rect x="58.52" y="365.87" width="1.4" height="1.4"/><rect x="61.06" y="366.55" width="1.4" height="1.4"/><rect x="63.59" y="367.23" width="1.4" height="1.4"/><rect x="66.12" y="367.91" width="1.4" height="1.4"/><rect x="68.66" y="367.57" width="1.4" height="1.4"/><rect x="71.19" y="366.89" width="1.4" height="1.4"/><rect x="73.72" y="366.21" width="1.4" height="1.4"/><rect x="58.95" y="367.77" width="1.4" height="1.4"/><rect x="61.46" y="368.59" width="1.4" height="1.4"/><rect x="63.97" y="369.40" width="1.4" height="1.4"/><rect x="66.48" y="369.81" width="1.4" height="1.4"/><rect x="68.99" y="369.00" width="1.4" height="1.4"/><rect x="71.51" y="368.18" width="1.4" height="1.4"/><rect x="63.67" y="371.20" width="1.4" height="1.4"/><rect x="66.29" y="371.65" width="1.4" height="1.4"/><rect x="68.90" y="370.75" width="1.4" height="1.4"/><rect x="71.51" y="370.29" width="1.4" height="1.4"/><rect x="63.67" y="373.23" width="1.4" height="1.4"/><rect x="66.29" y="373.68" width="1.4" height="1.4"/><rect x="68.90" y="372.77" width="1.4" height="1.4"/><rect x="71.51" y="372.32" width="1.4" height="1.4"/><rect x="61.16" y="374.53" width="1.4" height="1.4"/><rect x="63.87" y="375.44" width="1.4" height="1.4"/><rect x="66.58" y="375.89" width="1.4" height="1.4"/><rect x="69.29" y="374.99" width="1.4" height="1.4"/><rect x="63.67" y="377.26" width="1.4" height="1.4"/><rect x="66.48" y="377.71" width="1.4" height="1.4"/><rect x="69.29" y="376.81" width="1.4" height="1.4"/><rect x="58.21" y="378.47" width="1.4" height="1.4"/><rect x="60.79" y="379.26" width="1.4" height="1.4"/><rect x="63.38" y="380.05" width="1.4" height="1.4"/><rect x="65.97" y="380.85" width="1.4" height="1.4"/><rect x="68.55" y="380.45" width="1.4" height="1.4"/><rect x="71.14" y="379.66" width="1.4" height="1.4"/><rect x="73.72" y="378.86" width="1.4" height="1.4"/><rect x="58.95" y="381.89" width="1.4" height="1.4"/><rect x="61.27" y="382.57" width="1.4" height="1.4"/><rect x="63.59" y="383.25" width="1.4" height="1.4"/><rect x="65.91" y="383.93" width="1.4" height="1.4"/><rect x="68.23" y="383.59" width="1.4" height="1.4"/><rect x="70.56" y="382.91" width="1.4" height="1.4"/><rect x="72.88" y="382.23" width="1.4" height="1.4"/><rect x="75.20" y="381.55" width="1.4" height="1.4"/><rect x="63.67" y="384.44" width="1.4" height="1.4"/><rect x="66.11" y="385.34" width="1.4" height="1.4"/><rect x="68.55" y="384.89" width="1.4" height="1.4"/><rect x="66.33" y="388.29" width="1.4" height="1.4"/><rect x="66.33" y="390.87" width="1.4" height="1.4"/><rect x="68.55" y="390.42" width="1.4" height="1.4"/><rect x="66.33" y="392.72" width="1.4" height="1.4"/><rect x="137.89" y="257.87" width="1.4" height="1.4"/><rect x="137.89" y="269.99" width="1.4" height="1.4"/><rect x="137.89" y="291.64" width="1.4" height="1.4"/><rect x="140.55" y="291.19" width="1.4" height="1.4"/><rect x="137.89" y="302.99" width="1.4" height="1.4"/><rect x="140.11" y="305.08" width="1.4" height="1.4"/><rect x="137.89" y="306.98" width="1.4" height="1.4"/><rect x="137.89" y="311.12" width="1.4" height="1.4"/><rect x="140.11" y="315.56" width="1.4" height="1.4"/><rect x="137.89" y="317.77" width="1.4" height="1.4"/><rect x="135.38" y="320.43" width="1.4" height="1.4"/><rect x="137.97" y="320.88" width="1.4" height="1.4"/><rect x="140.55" y="319.98" width="1.4" height="1.4"/><rect x="137.89" y="322.24" width="1.4" height="1.4"/><rect x="137.89" y="324.35" width="1.4" height="1.4"/><rect x="140.55" y="323.90" width="1.4" height="1.4"/><rect x="137.89" y="327.38" width="1.4" height="1.4"/><rect x="132.72" y="330.21" width="1.4" height="1.4"/><rect x="135.30" y="331.06" width="1.4" height="1.4"/><rect x="137.89" y="331.48" width="1.4" height="1.4"/><rect x="140.48" y="330.63" width="1.4" height="1.4"/><rect x="143.06" y="329.78" width="1.4" height="1.4"/><rect x="137.89" y="332.55" width="1.4" height="1.4"/><rect x="140.11" y="336.98" width="1.4" height="1.4"/><rect x="135.38" y="338.46" width="1.4" height="1.4"/><rect x="137.97" y="338.91" width="1.4" height="1.4"/><rect x="140.55" y="338.01" width="1.4" height="1.4"/><rect x="137.89" y="342.38" width="1.4" height="1.4"/><rect x="140.11" y="341.93" width="1.4" height="1.4"/><rect x="135.38" y="343.63" width="1.4" height="1.4"/><rect x="137.97" y="344.08" width="1.4" height="1.4"/><rect x="140.55" y="343.18" width="1.4" height="1.4"/><rect x="132.72" y="346.09" width="1.4" height="1.4"/><rect x="135.32" y="346.91" width="1.4" height="1.4"/><rect x="137.92" y="347.32" width="1.4" height="1.4"/><rect x="140.52" y="346.50" width="1.4" height="1.4"/><rect x="143.12" y="345.68" width="1.4" height="1.4"/><rect x="145.72" y="345.28" width="1.4" height="1.4"/><rect x="135.38" y="348.07" width="1.4" height="1.4"/><rect x="137.97" y="348.52" width="1.4" height="1.4"/><rect x="140.55" y="347.62" width="1.4" height="1.4"/><rect x="132.72" y="350.54" width="1.4" height="1.4"/><rect x="135.23" y="351.39" width="1.4" height="1.4"/><rect x="137.74" y="352.24" width="1.4" height="1.4"/><rect x="140.26" y="351.82" width="1.4" height="1.4"/><rect x="142.77" y="350.97" width="1.4" height="1.4"/><rect x="135.38" y="353.60" width="1.4" height="1.4"/><rect x="137.97" y="354.05" width="1.4" height="1.4"/><rect x="140.55" y="353.15" width="1.4" height="1.4"/><rect x="132.72" y="355.06" width="1.4" height="1.4"/><rect x="135.33" y="355.97" width="1.4" height="1.4"/><rect x="137.94" y="356.42" width="1.4" height="1.4"/><rect x="140.55" y="355.51" width="1.4" height="1.4"/><rect x="132.72" y="357.32" width="1.4" height="1.4"/><rect x="135.23" y="358.17" width="1.4" height="1.4"/><rect x="137.74" y="359.02" width="1.4" height="1.4"/><rect x="140.26" y="358.60" width="1.4" height="1.4"/><rect x="142.77" y="357.75" width="1.4" height="1.4"/><rect x="132.72" y="361.15" width="1.4" height="1.4"/><rect x="135.32" y="361.97" width="1.4" height="1.4"/><rect x="137.92" y="362.37" width="1.4" height="1.4"/><rect x="140.52" y="361.56" width="1.4" height="1.4"/><rect x="143.12" y="360.74" width="1.4" height="1.4"/><rect x="145.72" y="360.33" width="1.4" height="1.4"/><rect x="132.72" y="363.11" width="1.4" height="1.4"/><rect x="135.42" y="363.96" width="1.4" height="1.4"/><rect x="138.11" y="364.39" width="1.4" height="1.4"/><rect x="140.81" y="363.54" width="1.4" height="1.4"/><rect x="143.51" y="362.69" width="1.4" height="1.4"/><rect x="135.38" y="366.33" width="1.4" height="1.4"/><rect x="137.97" y="366.76" width="1.4" height="1.4"/><rect x="140.55" y="365.91" width="1.4" height="1.4"/><rect x="143.14" y="365.48" width="1.4" height="1.4"/><rect x="145.72" y="365.06" width="1.4" height="1.4"/><rect x="130.21" y="367.35" width="1.4" height="1.4"/><rect x="132.79" y="368.14" width="1.4" height="1.4"/><rect x="135.38" y="368.94" width="1.4" height="1.4"/><rect x="137.97" y="369.33" width="1.4" height="1.4"/><rect x="140.55" y="368.54" width="1.4" height="1.4"/><rect x="143.14" y="367.75" width="1.4" height="1.4"/><rect x="145.72" y="366.95" width="1.4" height="1.4"/><rect x="135.38" y="371.42" width="1.4" height="1.4"/><rect x="137.84" y="371.88" width="1.4" height="1.4"/><rect x="140.30" y="370.97" width="1.4" height="1.4"/><rect x="142.77" y="370.52" width="1.4" height="1.4"/><rect x="130.21" y="373.58" width="1.4" height="1.4"/><rect x="132.72" y="373.98" width="1.4" height="1.4"/><rect x="135.23" y="374.80" width="1.4" height="1.4"/><rect x="137.74" y="375.62" width="1.4" height="1.4"/><rect x="140.26" y="375.21" width="1.4" height="1.4"/><rect x="142.77" y="374.39" width="1.4" height="1.4"/><rect x="135.38" y="376.52" width="1.4" height="1.4"/><rect x="137.97" y="376.97" width="1.4" height="1.4"/><rect x="140.55" y="376.07" width="1.4" height="1.4"/><rect x="135.38" y="379.77" width="1.4" height="1.4"/><rect x="137.97" y="380.22" width="1.4" height="1.4"/><rect x="140.55" y="379.32" width="1.4" height="1.4"/><rect x="132.72" y="381.49" width="1.4" height="1.4"/><rect x="135.33" y="382.40" width="1.4" height="1.4"/><rect x="137.94" y="382.85" width="1.4" height="1.4"/><rect x="140.55" y="381.95" width="1.4" height="1.4"/><rect x="137.89" y="385.53" width="1.4" height="1.4"/><rect x="140.55" y="385.08" width="1.4" height="1.4"/><rect x="137.89" y="387.45" width="1.4" height="1.4"/><rect x="209.60" y="245.35" width="1.4" height="1.4"/><rect x="209.60" y="268.99" width="1.4" height="1.4"/><rect x="209.60" y="273.72" width="1.4" height="1.4"/><rect x="209.60" y="289.98" width="1.4" height="1.4"/><rect x="209.60" y="292.64" width="1.4" height="1.4"/><rect x="207.08" y="295.51" width="1.4" height="1.4"/><rect x="209.60" y="297.43" width="1.4" height="1.4"/><rect x="209.60" y="303.63" width="1.4" height="1.4"/><rect x="209.60" y="314.42" width="1.4" height="1.4"/><rect x="207.08" y="316.64" width="1.4" height="1.4"/><rect x="209.60" y="317.09" width="1.4" height="1.4"/><rect x="212.11" y="316.19" width="1.4" height="1.4"/><rect x="209.60" y="319.30" width="1.4" height="1.4"/><rect x="207.08" y="322.11" width="1.4" height="1.4"/><rect x="209.60" y="322.56" width="1.4" height="1.4"/><rect x="212.11" y="321.66" width="1.4" height="1.4"/><rect x="209.60" y="324.56" width="1.4" height="1.4"/><rect x="212.11" y="324.11" width="1.4" height="1.4"/><rect x="209.60" y="326.25" width="1.4" height="1.4"/><rect x="204.72" y="328.48" width="1.4" height="1.4"/><rect x="207.23" y="329.33" width="1.4" height="1.4"/><rect x="209.74" y="329.76" width="1.4" height="1.4"/><rect x="212.26" y="328.91" width="1.4" height="1.4"/><rect x="214.77" y="328.06" width="1.4" height="1.4"/><rect x="209.60" y="331.37" width="1.4" height="1.4"/><rect x="209.60" y="333.63" width="1.4" height="1.4"/><rect x="207.08" y="337.10" width="1.4" height="1.4"/><rect x="209.60" y="337.55" width="1.4" height="1.4"/><rect x="207.08" y="340.73" width="1.4" height="1.4"/><rect x="209.60" y="341.18" width="1.4" height="1.4"/><rect x="212.11" y="340.28" width="1.4" height="1.4"/><rect x="209.60" y="343.15" width="1.4" height="1.4"/><rect x="212.18" y="342.70" width="1.4" height="1.4"/><rect x="214.77" y="342.25" width="1.4" height="1.4"/><rect x="207.08" y="345.98" width="1.4" height="1.4"/><rect x="209.64" y="346.43" width="1.4" height="1.4"/><rect x="212.21" y="345.53" width="1.4" height="1.4"/><rect x="214.77" y="345.07" width="1.4" height="1.4"/><rect x="207.08" y="349.94" width="1.4" height="1.4"/><rect x="209.82" y="350.39" width="1.4" height="1.4"/><rect x="212.55" y="349.49" width="1.4" height="1.4"/><rect x="202.21" y="352.24" width="1.4" height="1.4"/><rect x="204.74" y="352.92" width="1.4" height="1.4"/><rect x="207.27" y="353.60" width="1.4" height="1.4"/><rect x="209.81" y="353.94" width="1.4" height="1.4"/><rect x="212.34" y="353.26" width="1.4" height="1.4"/><rect x="214.87" y="352.58" width="1.4" height="1.4"/><rect x="217.41" y="351.90" width="1.4" height="1.4"/><rect x="219.94" y="351.56" width="1.4" height="1.4"/><rect x="204.42" y="356.42" width="1.4" height="1.4"/><rect x="206.64" y="357.24" width="1.4" height="1.4"/><rect x="208.86" y="358.05" width="1.4" height="1.4"/><rect x="211.07" y="357.65" width="1.4" height="1.4"/><rect x="213.29" y="356.83" width="1.4" height="1.4"/><rect x="215.51" y="356.01" width="1.4" height="1.4"/><rect x="199.25" y="358.04" width="1.4" height="1.4"/><rect x="201.84" y="358.44" width="1.4" height="1.4"/><rect x="204.42" y="359.23" width="1.4" height="1.4"/><rect x="207.01" y="360.03" width="1.4" height="1.4"/><rect x="209.60" y="360.42" width="1.4" height="1.4"/><rect x="212.18" y="359.63" width="1.4" height="1.4"/><rect x="214.77" y="358.84" width="1.4" height="1.4"/><rect x="204.42" y="362.23" width="1.4" height="1.4"/><rect x="207.01" y="363.08" width="1.4" height="1.4"/><rect x="209.60" y="363.51" width="1.4" height="1.4"/><rect x="212.18" y="362.66" width="1.4" height="1.4"/><rect x="214.77" y="361.81" width="1.4" height="1.4"/><rect x="207.08" y="365.04" width="1.4" height="1.4"/><rect x="209.64" y="365.50" width="1.4" height="1.4"/><rect x="212.21" y="364.59" width="1.4" height="1.4"/><rect x="214.77" y="364.14" width="1.4" height="1.4"/><rect x="209.60" y="367.14" width="1.4" height="1.4"/><rect x="212.11" y="366.69" width="1.4" height="1.4"/><rect x="204.42" y="368.59" width="1.4" height="1.4"/><rect x="207.01" y="369.44" width="1.4" height="1.4"/><rect x="209.60" y="369.86" width="1.4" height="1.4"/><rect x="212.18" y="369.01" width="1.4" height="1.4"/><rect x="214.77" y="368.16" width="1.4" height="1.4"/><rect x="207.08" y="372.12" width="1.4" height="1.4"/><rect x="209.60" y="372.57" width="1.4" height="1.4"/><rect x="212.11" y="371.67" width="1.4" height="1.4"/><rect x="207.08" y="374.59" width="1.4" height="1.4"/><rect x="209.64" y="375.05" width="1.4" height="1.4"/><rect x="212.21" y="374.14" width="1.4" height="1.4"/><rect x="214.77" y="373.69" width="1.4" height="1.4"/><rect x="207.08" y="376.35" width="1.4" height="1.4"/><rect x="209.60" y="376.80" width="1.4" height="1.4"/><rect x="212.11" y="375.90" width="1.4" height="1.4"/><rect x="207.08" y="378.18" width="1.4" height="1.4"/><rect x="209.60" y="378.63" width="1.4" height="1.4"/><rect x="209.60" y="381.02" width="1.4" height="1.4"/><rect x="212.18" y="380.57" width="1.4" height="1.4"/><rect x="214.77" y="380.12" width="1.4" height="1.4"/><rect x="207.08" y="382.74" width="1.4" height="1.4"/><rect x="209.60" y="383.19" width="1.4" height="1.4"/><rect x="212.11" y="382.29" width="1.4" height="1.4"/><rect x="207.08" y="384.31" width="1.4" height="1.4"/><rect x="209.60" y="384.76" width="1.4" height="1.4"/><rect x="209.60" y="386.67" width="1.4" height="1.4"/><rect x="209.60" y="389.03" width="1.4" height="1.4"/><rect x="212.11" y="388.58" width="1.4" height="1.4"/><rect x="336.94" y="323.73" width="1.4" height="1.4"/><rect x="339.30" y="324.18" width="1.4" height="1.4"/><rect x="339.30" y="338.73" width="1.4" height="1.4"/><rect x="339.30" y="344.64" width="1.4" height="1.4"/><rect x="336.94" y="346.71" width="1.4" height="1.4"/><rect x="339.37" y="347.16" width="1.4" height="1.4"/><rect x="341.81" y="346.26" width="1.4" height="1.4"/><rect x="339.30" y="348.93" width="1.4" height="1.4"/><rect x="339.30" y="351.29" width="1.4" height="1.4"/><rect x="334.42" y="353.53" width="1.4" height="1.4"/><rect x="336.94" y="354.38" width="1.4" height="1.4"/><rect x="339.45" y="354.80" width="1.4" height="1.4"/><rect x="341.96" y="353.95" width="1.4" height="1.4"/><rect x="344.47" y="353.10" width="1.4" height="1.4"/><rect x="339.30" y="355.98" width="1.4" height="1.4"/><rect x="331.91" y="356.98" width="1.4" height="1.4"/><rect x="334.42" y="357.79" width="1.4" height="1.4"/><rect x="336.94" y="358.61" width="1.4" height="1.4"/><rect x="339.45" y="359.02" width="1.4" height="1.4"/><rect x="341.96" y="358.20" width="1.4" height="1.4"/><rect x="344.47" y="357.38" width="1.4" height="1.4"/><rect x="334.42" y="359.73" width="1.4" height="1.4"/><rect x="336.94" y="360.58" width="1.4" height="1.4"/><rect x="339.45" y="361.01" width="1.4" height="1.4"/><rect x="341.96" y="360.16" width="1.4" height="1.4"/><rect x="344.47" y="359.31" width="1.4" height="1.4"/><rect x="334.42" y="362.69" width="1.4" height="1.4"/><rect x="336.94" y="363.54" width="1.4" height="1.4"/><rect x="339.45" y="363.96" width="1.4" height="1.4"/><rect x="341.96" y="363.11" width="1.4" height="1.4"/><rect x="344.47" y="362.26" width="1.4" height="1.4"/><rect x="339.30" y="366.81" width="1.4" height="1.4"/><rect x="329.25" y="368.97" width="1.4" height="1.4"/><rect x="331.78" y="369.65" width="1.4" height="1.4"/><rect x="334.32" y="370.33" width="1.4" height="1.4"/><rect x="336.85" y="371.01" width="1.4" height="1.4"/><rect x="339.38" y="371.35" width="1.4" height="1.4"/><rect x="341.92" y="370.67" width="1.4" height="1.4"/><rect x="344.45" y="369.99" width="1.4" height="1.4"/><rect x="346.98" y="369.31" width="1.4" height="1.4"/><rect x="339.30" y="372.46" width="1.4" height="1.4"/><rect x="339.30" y="374.79" width="1.4" height="1.4"/><rect x="341.81" y="374.34" width="1.4" height="1.4"/><rect x="334.42" y="375.83" width="1.4" height="1.4"/><rect x="336.89" y="376.74" width="1.4" height="1.4"/><rect x="339.35" y="377.19" width="1.4" height="1.4"/><rect x="341.81" y="376.29" width="1.4" height="1.4"/><rect x="336.94" y="379.46" width="1.4" height="1.4"/><rect x="339.37" y="379.91" width="1.4" height="1.4"/><rect x="341.81" y="379.01" width="1.4" height="1.4"/><rect x="331.91" y="380.67" width="1.4" height="1.4"/><rect x="334.42" y="381.49" width="1.4" height="1.4"/><rect x="336.94" y="382.30" width="1.4" height="1.4"/><rect x="339.45" y="382.71" width="1.4" height="1.4"/><rect x="341.96" y="381.89" width="1.4" height="1.4"/><rect x="344.47" y="381.08" width="1.4" height="1.4"/><rect x="329.25" y="382.62" width="1.4" height="1.4"/><rect x="331.84" y="383.02" width="1.4" height="1.4"/><rect x="334.42" y="383.81" width="1.4" height="1.4"/><rect x="337.01" y="384.61" width="1.4" height="1.4"/><rect x="339.60" y="385.00" width="1.4" height="1.4"/><rect x="342.18" y="384.21" width="1.4" height="1.4"/><rect x="344.77" y="383.42" width="1.4" height="1.4"/><rect x="325.56" y="384.93" width="1.4" height="1.4"/><rect x="327.97" y="385.37" width="1.4" height="1.4"/><rect x="330.39" y="385.80" width="1.4" height="1.4"/><rect x="332.81" y="386.23" width="1.4" height="1.4"/><rect x="335.23" y="386.66" width="1.4" height="1.4"/><rect x="337.65" y="387.10" width="1.4" height="1.4"/><rect x="340.07" y="387.31" width="1.4" height="1.4"/><rect x="342.48" y="386.88" width="1.4" height="1.4"/><rect x="344.90" y="386.45" width="1.4" height="1.4"/><rect x="347.32" y="386.01" width="1.4" height="1.4"/><rect x="349.74" y="385.58" width="1.4" height="1.4"/><rect x="352.16" y="385.15" width="1.4" height="1.4"/><rect x="336.94" y="389.37" width="1.4" height="1.4"/><rect x="339.37" y="389.82" width="1.4" height="1.4"/><rect x="341.81" y="388.92" width="1.4" height="1.4"/><rect x="339.30" y="393.07" width="1.4" height="1.4"/><rect x="408.64" y="297.94" width="1.4" height="1.4"/><rect x="411.15" y="298.39" width="1.4" height="1.4"/><rect x="411.15" y="300.38" width="1.4" height="1.4"/><rect x="411.15" y="305.56" width="1.4" height="1.4"/><rect x="411.15" y="311.17" width="1.4" height="1.4"/><rect x="411.15" y="316.86" width="1.4" height="1.4"/><rect x="413.52" y="316.41" width="1.4" height="1.4"/><rect x="408.64" y="321.59" width="1.4" height="1.4"/><rect x="411.15" y="322.04" width="1.4" height="1.4"/><rect x="411.15" y="332.60" width="1.4" height="1.4"/><rect x="406.13" y="335.91" width="1.4" height="1.4"/><rect x="408.59" y="336.36" width="1.4" height="1.4"/><rect x="411.05" y="337.27" width="1.4" height="1.4"/><rect x="413.52" y="336.82" width="1.4" height="1.4"/><rect x="408.64" y="338.24" width="1.4" height="1.4"/><rect x="411.08" y="339.14" width="1.4" height="1.4"/><rect x="413.52" y="338.69" width="1.4" height="1.4"/><rect x="406.13" y="340.73" width="1.4" height="1.4"/><rect x="408.59" y="341.18" width="1.4" height="1.4"/><rect x="411.05" y="342.09" width="1.4" height="1.4"/><rect x="413.52" y="341.64" width="1.4" height="1.4"/><rect x="411.15" y="343.24" width="1.4" height="1.4"/><rect x="406.13" y="346.81" width="1.4" height="1.4"/><rect x="408.71" y="347.66" width="1.4" height="1.4"/><rect x="411.30" y="348.08" width="1.4" height="1.4"/><rect x="413.89" y="347.23" width="1.4" height="1.4"/><rect x="416.47" y="346.38" width="1.4" height="1.4"/><rect x="411.15" y="348.91" width="1.4" height="1.4"/><rect x="411.15" y="352.60" width="1.4" height="1.4"/><rect x="406.13" y="356.65" width="1.4" height="1.4"/><rect x="408.59" y="357.10" width="1.4" height="1.4"/><rect x="411.05" y="358.01" width="1.4" height="1.4"/><rect x="413.52" y="357.56" width="1.4" height="1.4"/><rect x="408.64" y="359.11" width="1.4" height="1.4"/><rect x="411.15" y="359.56" width="1.4" height="1.4"/><rect x="408.64" y="361.73" width="1.4" height="1.4"/><rect x="411.25" y="362.18" width="1.4" height="1.4"/><rect x="413.86" y="361.28" width="1.4" height="1.4"/><rect x="416.47" y="360.82" width="1.4" height="1.4"/><rect x="406.13" y="362.84" width="1.4" height="1.4"/><rect x="408.60" y="363.69" width="1.4" height="1.4"/><rect x="411.08" y="364.54" width="1.4" height="1.4"/><rect x="413.55" y="364.12" width="1.4" height="1.4"/><rect x="416.03" y="363.27" width="1.4" height="1.4"/><rect x="408.64" y="365.45" width="1.4" height="1.4"/><rect x="411.08" y="366.35" width="1.4" height="1.4"/><rect x="413.52" y="365.90" width="1.4" height="1.4"/><rect x="408.64" y="369.08" width="1.4" height="1.4"/><rect x="411.10" y="369.54" width="1.4" height="1.4"/><rect x="413.57" y="368.63" width="1.4" height="1.4"/><rect x="416.03" y="368.18" width="1.4" height="1.4"/><rect x="408.64" y="370.44" width="1.4" height="1.4"/><rect x="411.08" y="371.34" width="1.4" height="1.4"/><rect x="413.52" y="370.89" width="1.4" height="1.4"/><rect x="408.64" y="372.60" width="1.4" height="1.4"/><rect x="411.15" y="373.05" width="1.4" height="1.4"/><rect x="408.64" y="374.37" width="1.4" height="1.4"/><rect x="411.08" y="375.27" width="1.4" height="1.4"/><rect x="413.52" y="374.82" width="1.4" height="1.4"/><rect x="411.15" y="376.85" width="1.4" height="1.4"/><rect x="406.13" y="378.89" width="1.4" height="1.4"/><rect x="408.70" y="379.71" width="1.4" height="1.4"/><rect x="411.27" y="380.12" width="1.4" height="1.4"/><rect x="413.84" y="379.30" width="1.4" height="1.4"/><rect x="416.41" y="378.49" width="1.4" height="1.4"/><rect x="418.98" y="378.08" width="1.4" height="1.4"/><rect x="406.13" y="380.39" width="1.4" height="1.4"/><rect x="408.59" y="380.84" width="1.4" height="1.4"/><rect x="411.05" y="381.75" width="1.4" height="1.4"/><rect x="413.52" y="381.30" width="1.4" height="1.4"/><rect x="403.47" y="382.58" width="1.4" height="1.4"/><rect x="406.05" y="383.38" width="1.4" height="1.4"/><rect x="408.64" y="384.17" width="1.4" height="1.4"/><rect x="411.23" y="384.57" width="1.4" height="1.4"/><rect x="413.81" y="383.77" width="1.4" height="1.4"/><rect x="416.40" y="382.98" width="1.4" height="1.4"/><rect x="418.98" y="382.19" width="1.4" height="1.4"/><rect x="411.15" y="386.41" width="1.4" height="1.4"/><rect x="413.52" y="385.96" width="1.4" height="1.4"/><rect x="411.15" y="388.07" width="1.4" height="1.4"/><rect x="482.60" y="284.18" width="1.4" height="1.4"/><rect x="482.60" y="288.46" width="1.4" height="1.4"/><rect x="482.60" y="293.78" width="1.4" height="1.4"/><rect x="480.08" y="296.74" width="1.4" height="1.4"/><rect x="482.60" y="298.51" width="1.4" height="1.4"/><rect x="482.60" y="301.76" width="1.4" height="1.4"/><rect x="482.60" y="308.86" width="1.4" height="1.4"/><rect x="482.60" y="315.73" width="1.4" height="1.4"/><rect x="485.11" y="315.28" width="1.4" height="1.4"/><rect x="482.60" y="322.16" width="1.4" height="1.4"/><rect x="480.08" y="325.40" width="1.4" height="1.4"/><rect x="482.60" y="326.30" width="1.4" height="1.4"/><rect x="485.11" y="325.85" width="1.4" height="1.4"/><rect x="480.08" y="329.10" width="1.4" height="1.4"/><rect x="482.60" y="330.00" width="1.4" height="1.4"/><rect x="485.11" y="329.55" width="1.4" height="1.4"/><rect x="482.60" y="330.73" width="1.4" height="1.4"/><rect x="482.60" y="334.20" width="1.4" height="1.4"/><rect x="485.11" y="333.75" width="1.4" height="1.4"/><rect x="480.08" y="339.76" width="1.4" height="1.4"/><rect x="482.60" y="340.66" width="1.4" height="1.4"/><rect x="485.11" y="340.21" width="1.4" height="1.4"/><rect x="482.60" y="345.38" width="1.4" height="1.4"/><rect x="477.42" y="347.19" width="1.4" height="1.4"/><rect x="480.01" y="348.04" width="1.4" height="1.4"/><rect x="482.60" y="348.89" width="1.4" height="1.4"/><rect x="485.18" y="348.47" width="1.4" height="1.4"/><rect x="487.77" y="347.62" width="1.4" height="1.4"/><rect x="480.08" y="351.88" width="1.4" height="1.4"/><rect x="482.60" y="352.78" width="1.4" height="1.4"/><rect x="485.11" y="352.33" width="1.4" height="1.4"/><rect x="480.08" y="353.91" width="1.4" height="1.4"/><rect x="482.60" y="354.81" width="1.4" height="1.4"/><rect x="485.11" y="354.36" width="1.4" height="1.4"/><rect x="480.08" y="355.95" width="1.4" height="1.4"/><rect x="482.60" y="356.85" width="1.4" height="1.4"/><rect x="485.11" y="356.40" width="1.4" height="1.4"/><rect x="477.42" y="358.60" width="1.4" height="1.4"/><rect x="479.98" y="359.06" width="1.4" height="1.4"/><rect x="482.55" y="359.96" width="1.4" height="1.4"/><rect x="485.11" y="359.51" width="1.4" height="1.4"/><rect x="477.42" y="360.53" width="1.4" height="1.4"/><rect x="480.01" y="361.38" width="1.4" height="1.4"/><rect x="482.60" y="362.23" width="1.4" height="1.4"/><rect x="485.18" y="361.80" width="1.4" height="1.4"/><rect x="487.77" y="360.95" width="1.4" height="1.4"/><rect x="480.08" y="363.02" width="1.4" height="1.4"/><rect x="482.60" y="363.92" width="1.4" height="1.4"/><rect x="485.11" y="363.47" width="1.4" height="1.4"/><rect x="480.08" y="365.43" width="1.4" height="1.4"/><rect x="482.60" y="367.56" width="1.4" height="1.4"/><rect x="480.08" y="369.77" width="1.4" height="1.4"/><rect x="482.64" y="370.23" width="1.4" height="1.4"/><rect x="485.21" y="369.32" width="1.4" height="1.4"/><rect x="487.77" y="368.87" width="1.4" height="1.4"/><rect x="477.42" y="371.38" width="1.4" height="1.4"/><rect x="480.01" y="372.23" width="1.4" height="1.4"/><rect x="482.60" y="373.08" width="1.4" height="1.4"/><rect x="485.18" y="372.65" width="1.4" height="1.4"/><rect x="487.77" y="371.80" width="1.4" height="1.4"/><rect x="482.60" y="374.25" width="1.4" height="1.4"/><rect x="482.60" y="376.51" width="1.4" height="1.4"/><rect x="485.11" y="376.06" width="1.4" height="1.4"/><rect x="480.08" y="377.74" width="1.4" height="1.4"/><rect x="482.60" y="378.64" width="1.4" height="1.4"/><rect x="485.11" y="378.19" width="1.4" height="1.4"/><rect x="474.47" y="379.96" width="1.4" height="1.4"/><rect x="476.78" y="380.55" width="1.4" height="1.4"/><rect x="479.09" y="381.15" width="1.4" height="1.4"/><rect x="481.39" y="381.74" width="1.4" height="1.4"/><rect x="483.70" y="382.04" width="1.4" height="1.4"/><rect x="486.01" y="381.45" width="1.4" height="1.4"/><rect x="488.32" y="380.85" width="1.4" height="1.4"/><rect x="490.63" y="380.26" width="1.4" height="1.4"/><rect x="492.94" y="379.66" width="1.4" height="1.4"/><rect x="480.08" y="382.56" width="1.4" height="1.4"/><rect x="482.64" y="383.01" width="1.4" height="1.4"/><rect x="485.21" y="382.10" width="1.4" height="1.4"/><rect x="487.77" y="381.65" width="1.4" height="1.4"/>
</g>
</svg>
</body></html>
